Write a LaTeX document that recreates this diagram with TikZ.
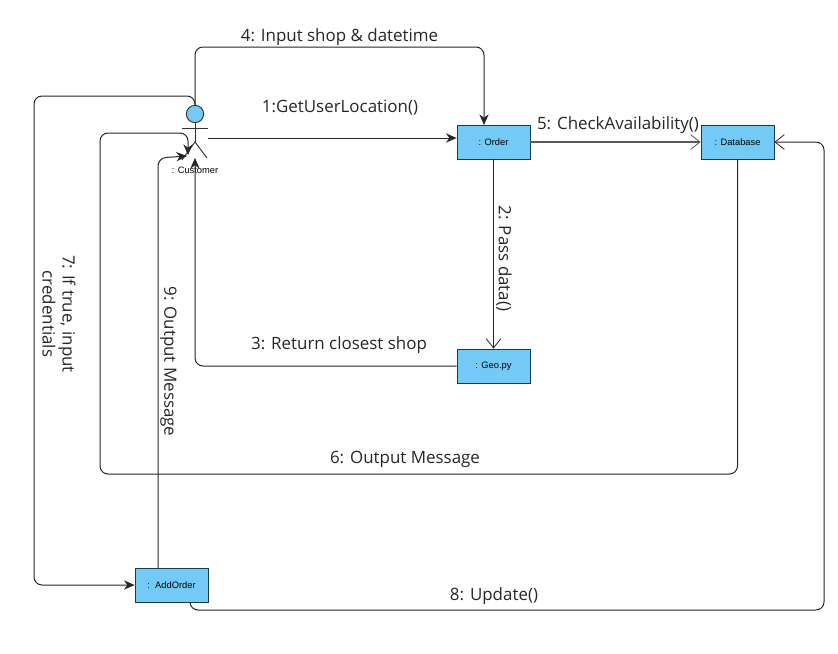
\documentclass[tikz,border=0pt]{standalone}
\usepackage{fontspec}
\setmainfont{Open Sans}
\newfontfamily\boxfont{Liberation Sans}
\usetikzlibrary{arrows.meta}
\definecolor{boxblue}{HTML}{73CAF5}
\definecolor{boxline}{HTML}{1B3A4B}
\begin{document}
\begin{tikzpicture}[x=0.75pt,y=-0.75pt,
  obj/.style={shape=rectangle, fill=boxblue, draw=boxline, line width=0.6pt, minimum width=54.75pt, minimum height=25.5pt, inner sep=0pt, font=\boxfont\fontsize{7}{8}\selectfont},
  msg/.style={font=\fontsize{12.7}{15}\selectfont, text=black!85, inner sep=0pt},
  conn/.style={draw=black!85, line width=0.75pt, rounded corners=6pt},
  solidhead/.style={conn, -{Stealth[length=8pt,width=7pt]}},
  openhead/.style={conn, -{Straight Barb[length=7pt,width=11pt,line width=0.6pt]}},
]
\useasboundingbox (0,0) rectangle (838,653);

%objects
\node[obj] (order) at (493.5,142) {: Order};
\node[obj] (database) at (737.5,142) {: Database};
\node[obj] (geo) at (493.5,366) {: Geo.py};
\node[obj] (addorder) at (171.5,585) {:\ \ AddOrder};

%actor
\node (head) at (195,114) [shape=circle, fill=boxblue, draw=black!80, line width=0.7pt, minimum size=13pt, inner sep=0pt] {};
\coordinate (hip) at (195,142);
\coordinate (armL) at (182,128);
\coordinate (armR) at (208,128);
\coordinate (legL) at (182,160);
\coordinate (legR) at (207,158);
\draw[black!80, line width=0.7pt] (head.south) -- (hip);
\draw[black!80, line width=0.7pt] (armL) -- (armR);
\draw[black!80, line width=0.7pt] (legL) -- (hip) -- (legR);
\node (customer) at (195,170) [font=\boxfont\fontsize{7}{8}\selectfont, inner sep=0pt] {: Customer};

%free ends at the actor
\coordinate (handR) at (208,138);
\coordinate (footC) at (195,158);
\coordinate (footL) at (187,156);
\coordinate (footM) at (188,155);

%messages
\draw[solidhead] (handR) -- (handR -| order.west);
\draw[openhead] (order.south) -- (geo.north);
\draw[solidhead] (geo.west) -- (195,366) -- (footC);
\draw[solidhead] (head.north) -- (195,47) -- (484,47) -- (484,125);
\draw[openhead, draw=black!65, line width=1.1pt] (order.east) -- (database.west);
\draw[solidhead] (database.south) -- (737.5,474) -- (100,474) -- (100,133) -- (188,133) -- (footM);
\draw[solidhead] (head.north) -- (195,96) -- (34,96) -- (34,585) -- (addorder.west);
\draw[openhead] (190,602) -- (190,610) -- (824,610) -- (824,142) -- (database.east);
\draw[solidhead] (158,568) -- (158,158) -- (footL);

%labels
\node[msg] (m1) at (340,108) {1:GetUserLocation()};
\node[msg, rotate=-90] (m2) at (504,258.5) {2: Pass data()};
\node[msg] (m3) at (339,345) {3: Return closest shop};
\node[msg] (m4) at (339.5,37) {4: Input shop \& datetime};
\node[msg] (m5) at (618,125) {5: CheckAvailability()};
\node[msg] (m6) at (405,459) {6: Output Message};
\node[msg, rotate=-90, align=center] (m7) at (59,314) {7: If true, input\\credentials};
\node[msg] (m8) at (494,596) {8: Update()};
\node[msg, rotate=-90] (m9) at (168.5,361.5) {9: Output Message};

\end{tikzpicture}
\end{document}
